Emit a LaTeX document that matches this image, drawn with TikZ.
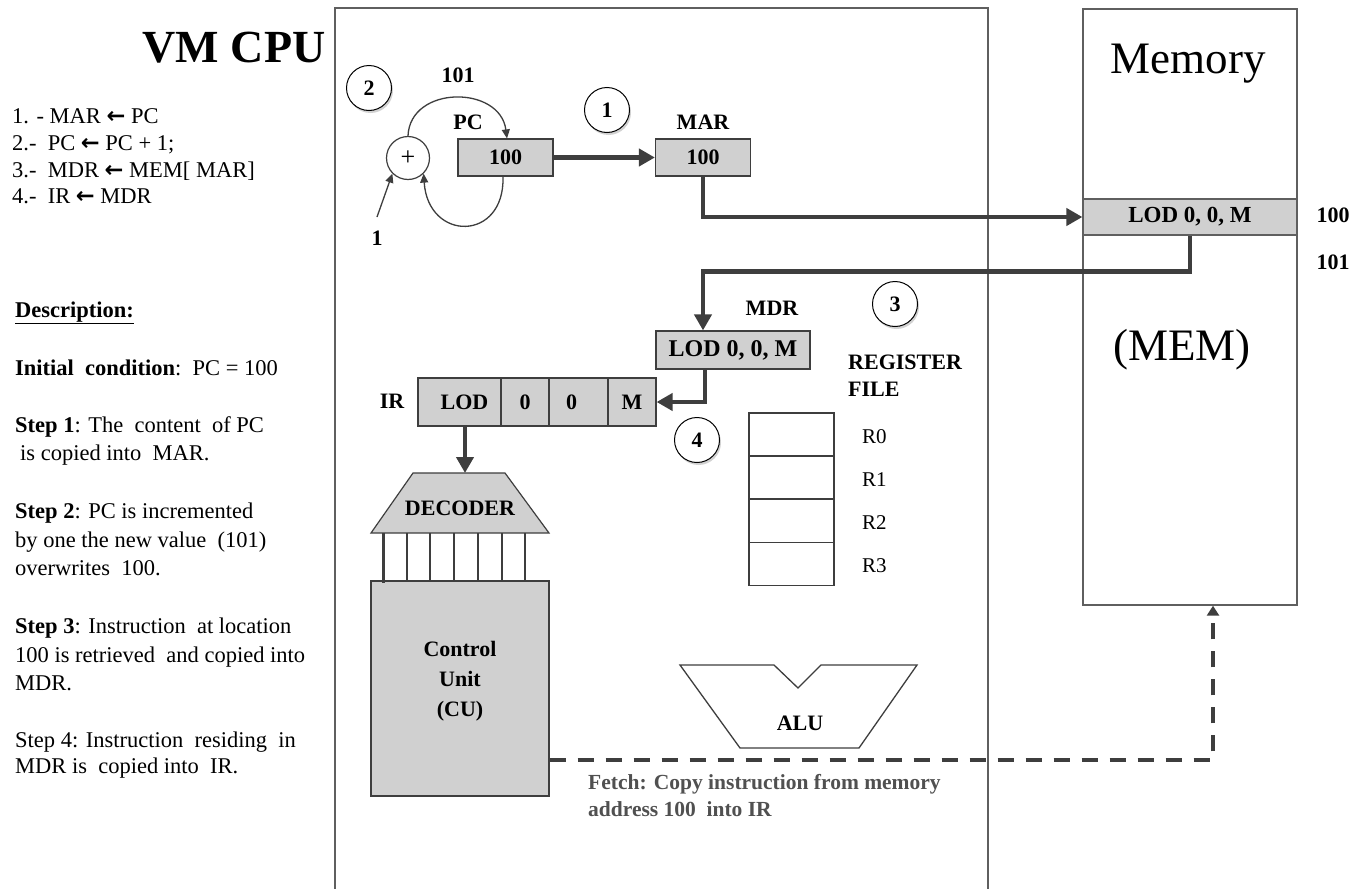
\documentclass[tikz,border=0pt]{standalone}
\usepackage{fontspec}
\setmainfont{Liberation Serif}
\newfontfamily\arrowfont{DejaVu Sans}
\usetikzlibrary{arrows.meta,shadows,calc}
\definecolor{boxfill}{RGB}{208,208,208}
\definecolor{ink}{RGB}{62,62,62}
\definecolor{framec}{RGB}{95,95,95}
\definecolor{fetchc}{RGB}{80,80,80}
\newcommand{\la}{{\arrowfont\bfseries ←}}
\begin{document}
\begin{tikzpicture}[x=1pt,y=-1pt,
  bigarr/.style={draw=ink, line width=4.5pt, line join=miter, -{Triangle[length=16pt,width=17pt]}},
  thinarr/.style={draw=ink, line width=1.3pt, -{Triangle[length=9pt,width=8pt]}},
  fetchline/.style={draw=ink, line width=4pt, dash pattern=on 16pt off 12pt, -{Triangle[length=10pt,width=12pt]}},
  reg/.style={draw=ink, fill=boxfill, line width=1.2pt, minimum height=37pt, inner sep=0pt, font=\bfseries\fontsize{22}{26}\selectfont},
  num/.style={circle, draw=black, fill=white, line width=1pt, minimum size=45pt, inner sep=0pt, font=\bfseries\fontsize{22}{26}\selectfont, drop shadow={shadow xshift=1.5pt, shadow yshift=-2.5pt, opacity=0.35}},
  lbl/.style={inner sep=0pt, anchor=base, font=\bfseries\fontsize{22}{26}\selectfont},
  txt/.style={inner sep=0pt, anchor=base west, font=\fontsize{22.5}{27}\selectfont},
  regcell/.style={draw=ink, fill=white, line width=1.2pt, minimum width=85pt, minimum height=43pt, inner sep=0pt},
  rlab/.style={inner sep=0pt, anchor=base west, font=\fontsize{21}{25}\selectfont},
]
\useasboundingbox[fill=white] (0,0) rectangle (1358,889);

% ---------- left column text ----------
\node[inner sep=0pt, anchor=base, font=\bfseries\fontsize{46}{50}\selectfont] (title) at (234,62) {VM CPU};
\node[txt] (l1) at (12,123) {1. - MAR \la\ PC};
\node[txt] (l2) at (12,150) {2.-\ \ PC \la\ PC + 1;};
\node[txt] (l3) at (12,177) {3.-\ \ MDR \la\ MEM[ MAR]};
\node[txt] (l4) at (12,203) {4.-\ \ IR \la\ MDR};

\node[txt] (d0) at (15,317) {\textbf{\underline{Description:}}};
\node[txt] (d1) at (15,375) {\textbf{Initial\ \ condition}:\ \ PC = 100};
\node[txt] (d2) at (15,432) {\textbf{Step 1}: The\ \ content\ \ of PC};
\node[txt] (d3) at (20,460) {is copied into\ \ MAR.};
\node[txt] (d4) at (15,518) {\textbf{Step 2}: PC is incremented};
\node[txt] (d5) at (15,547) {by one the new value\ \ (101)};
\node[txt] (d6) at (15,575) {overwrites\ \ 100.};
\node[txt] (d7) at (15,633) {\textbf{Step 3}: Instruction\ \ at location};
\node[txt] (d8) at (15,662) {100 is retrieved\ \ and copied into};
\node[txt] (d9) at (15,690) {MDR.};
\node[txt] (d10) at (15,747) {Step 4: Instruction\ \ residing\ \ in};
\node[txt] (d11) at (15,773) {MDR is\ \ copied into\ \ IR.};

% ---------- CPU frame ----------
\draw[framec, line width=1.6pt] (335,895) -- (335,8) -- (988,8) -- (988,895);

% ---------- memory ----------
\node[draw=framec, line width=1.4pt, minimum width=214pt, minimum height=596pt, inner sep=0pt] (mem) at (1190,307) {};
\node[inner sep=0pt, anchor=base, font=\fontsize{45}{50}\selectfont] (memtitle) at (1188,73) {Memory};
\node[inner sep=0pt, anchor=base, font=\fontsize{45}{50}\selectfont] (memname) at (1182,360) {(MEM)};
\node[draw=framec, fill=boxfill, line width=1.2pt, minimum width=214pt, minimum height=36pt, inner sep=0pt, font=\bfseries\fontsize{23}{26}\selectfont] (slot) at (1190,217) {LOD 0, 0, M};
\node[lbl] (a100) at (1333,222) {100};
\node[lbl] (a101) at (1333,269) {101};

% ---------- PC / MAR ----------
\node[num] (c2) at (369,88) {2};
\node[num] (c1) at (607,110) {1};
\node[lbl] (lab101) at (458,82) {101};
\node[lbl] (labpc) at (468,129) {PC};
\node[lbl] (labmar) at (703,129) {MAR};
\node[reg, minimum width=95pt] (pc) at (505.5,157.5) {100};
\node[reg, minimum width=95pt] (mar) at (703,157.5) {100};
\node[circle, draw=ink, fill=white, line width=1.2pt, minimum size=43pt, inner sep=0pt, font=\fontsize{26}{30}\selectfont] (plus) at (408,158) {+};
\coordinate (inp) at (377,217);
\node[lbl] (one) at (377,245) {1};

\draw[thinarr] (plus.north) .. controls (410,85) and (500,85) .. ([xshift=1.5pt]pc.north);
\draw[thinarr] ([xshift=-2.5pt]pc.south) .. controls (505,242) and (428,242) .. (plus.south east);
\draw[thinarr] (inp) -- (plus.south west);

\draw[bigarr] (pc.east) -- (mar.west);
\draw[bigarr] (mar.south) |- (slot.west);

% ---------- MDR / IR ----------
\node[lbl] (labmdr) at (772,315) {MDR};
\node[num] (c3) at (895,304) {3};
\node[reg, minimum width=154pt, minimum height=38pt, font=\bfseries\fontsize{24}{26}\selectfont] (mdr) at (733,350) {LOD 0, 0, M};
\draw[bigarr] (slot.south) -- ++(0,36) -| ([xshift=-30pt]mdr.north);

\node[lbl] (labir) at (392,408) {IR};
\node[reg, minimum width=83pt, minimum height=48pt] (ir1) at (459.5,402) {\hspace{10pt}LOD};
\node[reg, minimum width=48pt, minimum height=48pt] (ir2) at (525,402) {0};
\node[reg, minimum width=59pt, minimum height=48pt] (ir3) at (578.5,402) {\hspace{-14pt}0};
\node[reg, minimum width=48pt, minimum height=48pt] (ir4) at (632,402) {M};
\draw[bigarr] ([xshift=-28pt]mdr.south) |- (ir4.east);
\node[num] (c4) at (697,440) {4};

% ---------- decoder / control unit ----------
\draw[ink, fill=boxfill, line width=1.2pt] (413,473) -- (505,473) -- (549,533) -- (371,533) -- cycle;
\node[lbl] (dec) at (460,515) {DECODER};
\coordinate (dectop) at (465,473);
\draw[bigarr] ([xshift=5.5pt]ir1.south) -- (dectop);

\node[draw=ink, fill=boxfill, line width=1.2pt, minimum width=178pt, minimum height=215pt, inner sep=0pt] (cu) at (460,688.5) {};
\foreach \xx in {407,430,454,478,502,525} \draw[ink, line width=1.1pt] (\xx,533) -- (\xx,581);
\draw[ink, line width=3pt] (383,533) -- (383,583);
\node[inner sep=0pt, align=center, font=\bfseries\fontsize{22}{30}\selectfont] (cutxt) at (460,681) {Control\\Unit\\(CU)};

% ---------- register file ----------
\node[inner sep=0pt, anchor=north west, align=left, font=\bfseries\fontsize{22}{27}\selectfont] (regfile) at (848,355) {REGISTER\\FILE};
\node[regcell] (r0) at (791.5,434.5) {};
\node[regcell] (r1) at (791.5,477.5) {};
\node[regcell] (r2) at (791.5,521) {};
\node[regcell] (r3) at (791.5,564) {};
\node[rlab] (lr0) at (862,443) {R0};
\node[rlab] (lr1) at (862,486) {R1};
\node[rlab] (lr2) at (862,529) {R2};
\node[rlab] (lr3) at (862,572) {R3};

% ---------- ALU ----------
\draw[ink, fill=white, line width=1.3pt] (680,665) -- (774,665) -- (798,688) -- (821,665) -- (917,665) -- (859,748) -- (740,748) -- cycle;
\node[lbl] (alu) at (800,730) {ALU};

% ---------- fetch ----------
\draw[fetchline] ([yshift=-71.5pt]cu.east) -| ([xshift=23pt]mem.south);
\node[inner sep=0pt, anchor=north west, align=left, text=fetchc, font=\bfseries\fontsize{21.5}{27}\selectfont] (fetch) at (588,774) {Fetch: Copy instruction from memory\\address 100\ \ into IR};
\end{tikzpicture}
\end{document}
